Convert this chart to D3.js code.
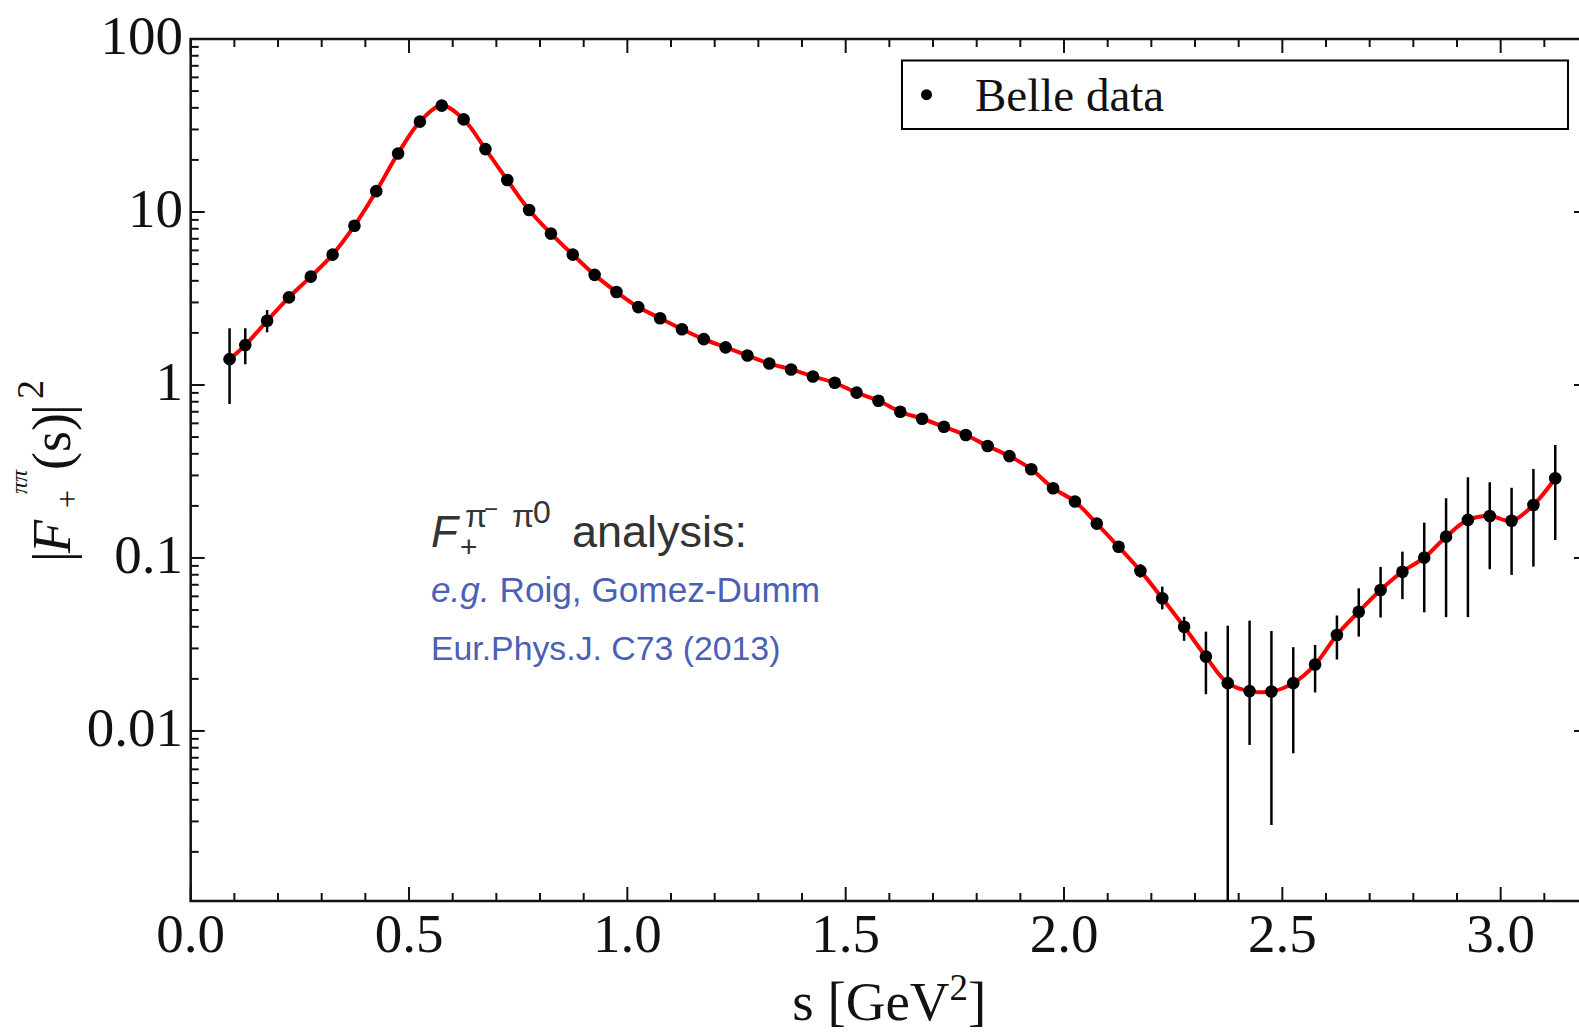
<!DOCTYPE html>
<html><head><meta charset="utf-8">
<script src="https://cdn.jsdelivr.net/npm/d3@7"></script>
<style>html,body{margin:0;padding:0;background:#fff;} svg{display:block;}</style>
</head><body>
<svg id="chart" width="1579" height="1033"></svg>
<script>
// ---------- data ----------
const sValues = [0.089,0.125,0.175,0.225,0.275,0.325,0.375,0.425,0.475,0.525,0.575,0.625,0.675,0.725,0.775,0.825,0.875,0.925,0.975,1.025,1.075,1.125,1.175,1.225,1.275,1.325,1.375,1.425,1.475,1.525,1.575,1.625,1.675,1.725,1.775,1.825,1.875,1.925,1.975,2.025,2.075,2.125,2.175,2.225,2.275,2.325,2.375,2.425,2.475,2.525,2.575,2.625,2.675,2.725,2.775,2.825,2.875,2.925,2.975,3.025,3.075,3.125];
const formFactor2 = [1.41,1.70,2.35,3.21,4.23,5.67,8.33,13.2,21.8,33.3,41.2,34.3,23.1,15.3,10.27,7.50,5.67,4.33,3.45,2.82,2.43,2.10,1.84,1.65,1.48,1.33,1.23,1.12,1.03,0.903,0.811,0.700,0.638,0.573,0.514,0.444,0.388,0.326,0.253,0.212,0.158,0.116,0.0842,0.0585,0.0400,0.0269,0.0189,0.0170,0.0169,0.0189,0.0242,0.0359,0.0489,0.0653,0.0833,0.1004,0.1328,0.166,0.175,0.164,0.2025,0.289];
const errHigh = [2.13,2.13,2.71,null,null,null,null,null,null,null,null,null,null,null,null,null,null,null,null,null,null,null,null,null,null,null,null,null,null,null,null,null,null,null,null,null,null,null,null,null,null,0.123,0.092,0.0683,0.0457,0.0375,0.0405,0.0434,0.0378,0.0305,0.0314,0.0465,0.0668,0.0888,0.1088,0.160,0.2214,0.2927,0.274,0.2546,0.327,0.450];
const errLow  = [0.777,1.317,2.016,null,null,null,null,null,null,null,null,null,null,null,null,null,null,null,null,null,null,null,null,null,null,null,null,null,null,null,null,null,null,null,null,null,null,null,null,null,null,0.109,0.077,0.0505,0.0332,0.0163,0.0009,0.0083,0.00286,0.00743,0.0167,0.0259,0.0351,0.0453,0.0578,0.0485,0.0455,0.0455,0.0861,0.0798,0.0891,0.127];
const xMajorTicks = [0,0.5,1,1.5,2,2.5,3];
const xTickLabels = ["0.0","0.5","1.0","1.5","2.0","2.5","3.0"];
const yMajorTicks = [100,10,1,0.1,0.01];
const yTickLabels = ["100","10","1","0.1","0.01"];
const legendLabel = "Belle data";
const xDomain = [0, 3.2];
const yDomain = [0.00104, 100];

// ---------- layout ----------
const L = 190.7, R = 1588, T = 39, B = 901;
const svg = d3.select("#chart");
const x = d3.scaleLinear().domain(xDomain).range([L, R]);
const y = d3.scaleLog().domain(yDomain).range([B, T]);
const data = sValues.map((s,i)=>({s, v:formFactor2[i], hi:errHigh[i], lo:errLow[i]}));

svg.append("defs").append("clipPath").attr("id","plotclip")
  .append("rect").attr("x",L).attr("y",T).attr("width",R-L).attr("height",B-T);

const axisCol = "#111";
const serif = "Liberation Serif, Times New Roman, serif";
const sans = "Liberation Sans, Arial, Helvetica, sans-serif";

// ticks
const xMinor = x.ticks(32).filter(t => !xMajorTicks.some(m => Math.abs(m-t)<1e-9));
const yAll = y.ticks();
const yMinor = yAll.filter(t => !yMajorTicks.some(m => Math.abs(Math.log10(m)-Math.log10(t))<1e-9));
const gT = svg.append("g").attr("stroke",axisCol).attr("stroke-width",2);
const majL = 14, minL = 8;
xMajorTicks.forEach(t=>{
  gT.append("line").attr("x1",x(t)).attr("x2",x(t)).attr("y1",B).attr("y2",B-majL);
  gT.append("line").attr("x1",x(t)).attr("x2",x(t)).attr("y1",T).attr("y2",T+majL);
});
xMinor.forEach(t=>{
  gT.append("line").attr("x1",x(t)).attr("x2",x(t)).attr("y1",B).attr("y2",B-minL);
  gT.append("line").attr("x1",x(t)).attr("x2",x(t)).attr("y1",T).attr("y2",T+minL);
});
yMajorTicks.forEach(t=>{
  gT.append("line").attr("x1",L).attr("x2",L+majL).attr("y1",y(t)).attr("y2",y(t));
  gT.append("line").attr("x1",R).attr("x2",R-majL).attr("y1",y(t)).attr("y2",y(t));
});
yMinor.forEach(t=>{
  gT.append("line").attr("x1",L).attr("x2",L+minL).attr("y1",y(t)).attr("y2",y(t));
  gT.append("line").attr("x1",R).attr("x2",R-minL).attr("y1",y(t)).attr("y2",y(t));
});
// frame
svg.append("rect").attr("x",L).attr("y",T).attr("width",R-L).attr("height",B-T)
  .attr("fill","none").attr("stroke",axisCol).attr("stroke-width",2.5);

// tick labels
const gl = svg.append("g").attr("font-family",serif).attr("font-size",55).attr("fill",axisCol);
xMajorTicks.forEach((t,i)=>{
  gl.append("text").attr("x",x(t)).attr("y",952).attr("text-anchor","middle").text(xTickLabels[i]);
});
yMajorTicks.forEach((t,i)=>{
  gl.append("text").attr("x",183).attr("y",y(t)+15).attr("text-anchor","end").text(yTickLabels[i]);
});

// x axis label
const xl = gl.append("text").attr("x",(L+R)/2).attr("y",1020).attr("text-anchor","middle");
xl.append("tspan").text("s [GeV");
xl.append("tspan").attr("font-size",37).attr("dy",-20).text("2");
xl.append("tspan").attr("dy",20).text("]");

// y axis label (rotated)
const yl = svg.append("g").attr("transform","translate(70,562) rotate(-90)")
  .attr("font-family",serif).attr("fill",axisCol);
yl.append("text").attr("x",0).attr("y",0).attr("font-size",54).text("|");
yl.append("text").attr("x",9).attr("y",0).attr("font-size",54).attr("font-style","italic").text("F");
yl.append("text").attr("x",54).attr("y",8).attr("font-size",32).text("+");
yl.append("text").attr("x",68).attr("y",-43).attr("font-size",24).attr("font-style","italic").text("ππ");
yl.append("text").attr("x",92).attr("y",0).attr("font-size",54).text("(s)");
yl.append("text").attr("x",147).attr("y",0).attr("font-size",54).text("|");
yl.append("text").attr("x",163).attr("y",-27).attr("font-size",38).text("2");

// curve
const line = d3.line().x(d=>x(d.s)).y(d=>y(d.v)).curve(d3.curveCatmullRom.alpha(0.5));
const plot = svg.append("g").attr("clip-path","url(#plotclip)");
plot.append("path").datum(data).attr("d",line).attr("fill","none")
  .attr("stroke","#ff0000").attr("stroke-width",4).attr("stroke-linejoin","round");

// error bars
plot.selectAll("line.err").data(data.filter(d=>d.hi!=null)).enter().append("line")
  .attr("class","err").attr("x1",d=>x(d.s)).attr("x2",d=>x(d.s))
  .attr("y1",d=>y(d.hi)).attr("y2",d=>y(Math.max(d.lo, yDomain[0]*0.5)))
  .attr("stroke","#000").attr("stroke-width",2.5);

// points
plot.selectAll("circle.pt").data(data).enter().append("circle")
  .attr("class","pt").attr("cx",d=>x(d.s)).attr("cy",d=>y(d.v)).attr("r",6.3).attr("fill","#000");

// legend
const lg = svg.append("g");
lg.append("rect").attr("x",902).attr("y",60.5).attr("width",666).attr("height",68.5)
  .attr("fill","#fff").attr("stroke","#000").attr("stroke-width",2);
lg.append("circle").attr("cx",926.5).attr("cy",94.7).attr("r",5.5).attr("fill","#000");
lg.append("text").attr("x",975).attr("y",110.5).attr("font-family",serif).attr("font-size",47)
  .attr("fill","#111").text(legendLabel);

// annotation
const an = svg.append("g").attr("font-family",sans);
an.append("text").attr("x",431).attr("y",547).attr("font-size",44).attr("font-style","italic").attr("fill","#333").text("F");
an.append("text").attr("x",460).attr("y",557).attr("font-size",30).attr("fill","#333").text("+");
an.append("text").attr("x",465).attr("y",527).attr("font-size",32).attr("fill","#333").text("π");
an.append("text").attr("x",484).attr("y",517).attr("font-size",24).attr("fill","#333").text("−");
an.append("text").attr("x",512).attr("y",527).attr("font-size",32).attr("fill","#333").text("π");
an.append("text").attr("x",533).attr("y",523).attr("font-size",32).attr("fill","#333").text("0");
an.append("text").attr("x",572).attr("y",547).attr("font-size",45).attr("fill","#333").text("analysis:");
const l2 = an.append("text").attr("x",431).attr("y",602).attr("font-size",35.2).attr("fill","#4b5fb4");
l2.append("tspan").attr("font-style","italic").text("e.g.");
l2.append("tspan").text(" Roig, Gomez-Dumm");
an.append("text").attr("x",431).attr("y",660).attr("font-size",33.8).attr("fill","#4b5fb4").text("Eur.Phys.J. C73 (2013)");
</script>
</body></html>
